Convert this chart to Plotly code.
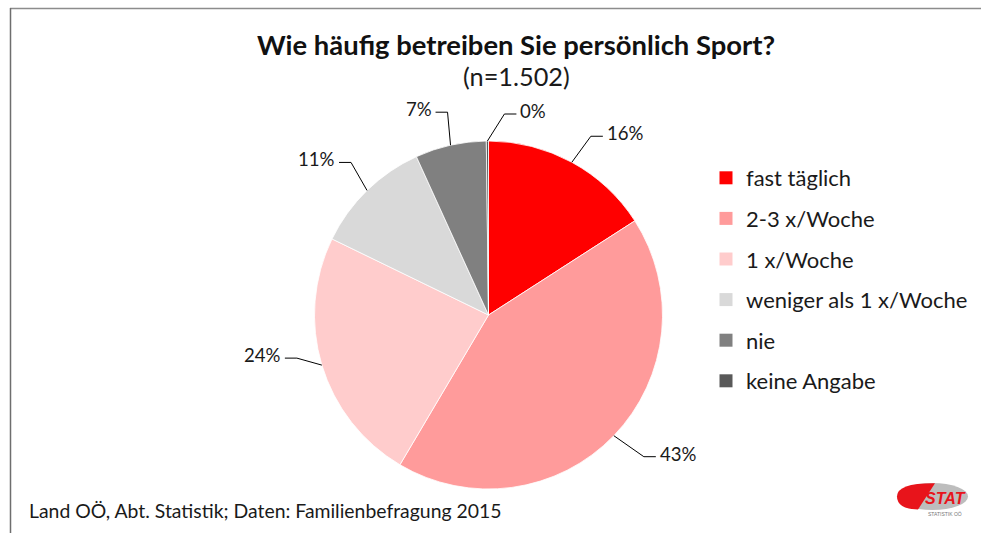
import math
import plotly.graph_objects as go

# ---- data ----
categories = ["fast täglich", "2-3 x/Woche", "1 x/Woche",
              "weniger als 1 x/Woche", "nie", "keine Angabe"]
shares = [15.9, 42.6, 23.7, 11.0, 6.6, 0.2]
title_text = "Wie häufig betreiben Sie persönlich Sport?"
subtitle_text = "(n=1.502)"
source_text = "Land OÖ, Abt. Statistik; Daten: Familienbefragung 2015"

# ---- style / layout ----
colors = ["#FF0000", "#FF9B9B", "#FFCCCC", "#D9D9D9", "#808080", "#595959"]
W, H = 981, 533
CX, CY, R = 488.5, 315.0, 174.0
# elbow offsets of leader lines (pixels, relative to slice edge point)
leader_offsets = [(19, -26), (30, 21), (-25, -7), (-16, -28), (-3, -33), (17, -27)]
LEADER_H = 12
FONT = "Lato"


def px(x):
    return x / W


def py(y):
    return 1 - y / H


fig = go.Figure()

fig.add_trace(go.Pie(
    labels=categories,
    values=shares,
    sort=False,
    direction="clockwise",
    rotation=0,
    marker=dict(colors=colors, line=dict(color="white", width=0.8)),
    textinfo="none",
    hoverinfo="label+percent",
    showlegend=False,
    domain=dict(x=[px(CX - R), px(CX + R)], y=[py(CY + R), py(CY - R)]),
))

# legend entries (one per category)
for cat, col in zip(categories, colors):
    fig.add_trace(go.Scatter(
        x=[None], y=[None], mode="markers", name=cat,
        legendgroup=cat,
        marker=dict(symbol="square", size=13, color=col),
        showlegend=True, hoverinfo="skip",
    ))

# percentage labels with leader lines, positioned from the data
total = sum(shares)
shapes = []
annotations = []
cum = 0.0
for val, (dx, dy) in zip(shares, leader_offsets):
    mid = (cum + val / 2) / total * 2 * math.pi
    cum += val
    ex = CX + R * math.sin(mid)
    ey = CY - R * math.cos(mid)
    bx, by = ex + dx, ey + dy
    side = 1 if dx >= 0 else -1
    hx = bx + side * LEADER_H
    shapes.append(dict(
        type="path", xref="paper", yref="paper",
        path=f"M {px(ex)},{py(ey)} L {px(bx)},{py(by)} L {px(hx)},{py(by)}",
        line=dict(color="black", width=1),
    ))
    pct = round(val / total * 100)
    annotations.append(dict(
        x=px(hx + side * 2), y=py(by - 3), xref="paper", yref="paper",
        text=f"{pct}%", showarrow=False,
        xanchor="left" if side > 0 else "right", yanchor="middle",
        font=dict(family=FONT, size=18.6, color="#1a1a1a"),
    ))

# frame border
shapes.append(dict(type="line", xref="paper", yref="paper",
                   x0=px(10), x1=1, y0=py(8.5), y1=py(8.5),
                   line=dict(color="#8c8c8c", width=1.5)))
shapes.append(dict(type="line", xref="paper", yref="paper",
                   x0=px(10.5), x1=px(10.5), y0=py(8), y1=0,
                   line=dict(color="#6e6e6e", width=1.5)))

# logo
shapes.append(dict(type="circle", xref="paper", yref="paper",
                   x0=px(897), x1=px(968), y0=py(510), y1=py(483),
                   fillcolor="#BDBDBD", line=dict(width=0)))
shapes.append(dict(type="path", xref="paper", yref="paper",
                   path=(f"M {px(935)},{py(483.3)} "
                         f"Q {px(897)},{py(483)} {px(897)},{py(496.5)} "
                         f"Q {px(897)},{py(509)} {px(918)},{py(509.5)} "
                         f"L {px(935)},{py(483.3)} Z"),
                   fillcolor="#E8141B", line=dict(width=0)))
annotations.append(dict(x=px(945), y=py(498), xref="paper", yref="paper",
                        text="<b><i>STAT</i></b>", showarrow=False,
                        xanchor="center", yanchor="middle",
                        font=dict(family="Liberation Sans", size=16, color="#E8141B")))
annotations.append(dict(x=px(945), y=py(514), xref="paper", yref="paper",
                        text="STATISTIK OÖ", showarrow=False,
                        xanchor="center", yanchor="middle",
                        font=dict(family="Liberation Sans", size=5, color="#777777")))

# subtitle and source
annotations.append(dict(x=px(516), y=py(76), xref="paper", yref="paper",
                        text=subtitle_text, showarrow=False,
                        xanchor="center", yanchor="middle",
                        font=dict(family=FONT, size=25.3, color="#1a1a1a")))
annotations.append(dict(x=px(27), y=py(511), xref="paper", yref="paper",
                        text=source_text, showarrow=False,
                        xanchor="left", yanchor="middle",
                        font=dict(family=FONT, size=19.4, color="#1a1a1a")))

fig.update_layout(
    width=W, height=H,
    margin=dict(l=0, r=0, t=0, b=0),
    paper_bgcolor="white", plot_bgcolor="white",
    title=dict(text=f"<b>{title_text}</b>", x=px(516), xanchor="center",
               y=py(45), yanchor="middle", yref="paper",
               font=dict(family=FONT, size=27.4, color="#111111")),
    xaxis=dict(visible=False), yaxis=dict(visible=False),
    legend=dict(x=px(706), y=py(157), xanchor="left", yanchor="top",
                traceorder="grouped", tracegroupgap=9,
                font=dict(family=FONT, size=22, color="#1a1a1a"),
                bgcolor="rgba(0,0,0,0)", itemclick=False, itemdoubleclick=False),
    shapes=shapes,
    annotations=annotations,
)

fig.write_html("out.html",
               config={"displayModeBar": False},
               post_script="document.body.style.margin='0';document.body.style.overflow='hidden';")
